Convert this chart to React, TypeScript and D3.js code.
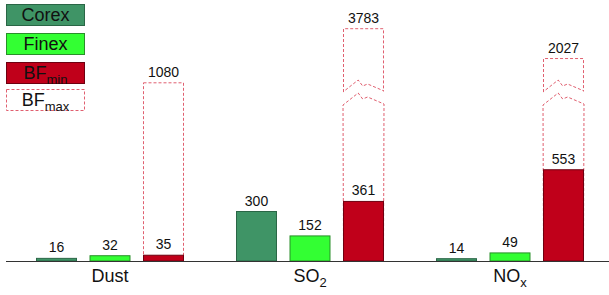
import React from "react";
import * as d3 from "d3";

const categories = ["Dust", "SO2", "NOx"];
const catLabels: [string, string][] = [["Dust", ""], ["SO", "2"], ["NO", "x"]];
const series = ["Corex", "Finex", "BF"];
const corex = [16, 300, 14];
const finex = [32, 152, 49];
const bfMin = [35, 361, 553];
const bfMax = [1080, 3783, 2027];

const W = 609;
const H = 295;
const BASE = 261;
const FONT = "'Liberation Sans', Arial, sans-serif";

const COREX_FILL = "#3f9466";
const COREX_STROKE = "#2a6646";
const FINEX_FILL = "#33ff33";
const FINEX_STROKE = "#2a8f2a";
const BF_FILL = "#c0001a";
const BF_STROKE = "#6e0010";
const DASH = "#e06070";

export default function App() {
  const x0 = d3.scaleBand<string>().domain(categories).range([10, 610]).padding(0);
  const x1 = d3.scaleBand<string>().domain(series).range([26, 174]).paddingInner(0.234).paddingOuter(0);
  const y = d3.scaleLinear().domain([0, 1000]).range([BASE, 96]);
  const yUp = d3.scaleLinear().domain([1000, 4000]).range([76, 25]);
  const breakLimit = 1500;
  const breakUpper = 92;
  const breakLower = 105;

  const w = x1.bandwidth();

  const chevron = (bx: number, yb: number) =>
    [
      [bx, yb],
      [bx + 0.37 * w, yb - 12],
      [bx + 0.48 * w, yb - 6],
      [bx + 0.6 * w, yb - 8],
      [bx + w, yb - 1],
    ] as [number, number][];

  const line = d3.line();

  const valueLabel = (cx: number, top: number, v: number, key: string) => (
    <text key={key} x={cx} y={top - 6} textAnchor="middle" fontSize={14} fill="#111" fontFamily={FONT}>
      {v}
    </text>
  );

  const legend = [
    { fill: COREX_FILL, stroke: COREX_STROKE, dash: false, main: "Corex", sub: "" },
    { fill: FINEX_FILL, stroke: FINEX_STROKE, dash: false, main: "Finex", sub: "" },
    { fill: BF_FILL, stroke: BF_STROKE, dash: false, main: "BF", sub: "min" },
    { fill: "#fff", stroke: DASH, dash: true, main: "BF", sub: "max" },
  ];
  const legendY = [4, 33, 62, 89];

  return (
    <svg width={W} height={H} style={{ position: "absolute", left: 0, top: 0, background: "#fff" }}>
      {/* legend */}
      {legend.map((l, i) => (
        <g key={"lg" + i}>
          <rect
            x={6.5}
            y={legendY[i] + 0.5}
            width={78}
            height={21}
            fill={l.fill}
            stroke={l.stroke}
            strokeWidth={1}
            strokeDasharray={l.dash ? "3,2" : undefined}
          />
          <text x={45.5} y={legendY[i] + 16.5} textAnchor="middle" fontSize={18} fontFamily={FONT} fill="#111">
            {l.main}
            {l.sub && (
              <tspan fontSize={13} dy={5}>
                {l.sub}
              </tspan>
            )}
          </text>
        </g>
      ))}

      {categories.map((c, i) => {
        const gx = x0(c)!;
        const xc = gx + x1("Corex")!;
        const xf = gx + x1("Finex")!;
        const xb = gx + x1("BF")!;
        const max = bfMax[i];
        const broken = max > breakLimit;
        const topMax = broken ? yUp(max) : y(max);
        return (
          <g key={c}>
            {/* BF max dashed outline */}
            {broken ? (
              <g fill="none" stroke={DASH} strokeWidth={1} strokeDasharray="3,2">
                <path
                  d={
                    `M${xb + 0.5},${breakUpper}L${xb + 0.5},${topMax}L${xb + w - 0.5},${topMax}L${xb + w - 0.5},${breakUpper - 1}` +
                    line(chevron(xb, breakUpper).reverse())!.replace("M", "L")
                  }
                  fill="#fff"
                />
                <path
                  d={
                    `M${xb + 0.5},${BASE}` +
                    line(chevron(xb, breakLower))!.replace("M", "L") +
                    `L${xb + w - 0.5},${BASE}`
                  }
                  fill="#fff"
                />
              </g>
            ) : (
              <rect
                x={xb + 0.5}
                y={topMax}
                width={w - 1}
                height={BASE - topMax}
                fill="#fff"
                stroke={DASH}
                strokeWidth={1}
                strokeDasharray="3,2"
              />
            )}
            {/* Corex */}
            <rect x={xc + 0.5} y={y(corex[i])} width={w - 1} height={BASE - y(corex[i])} fill={COREX_FILL} stroke={COREX_STROKE} />
            {/* Finex */}
            <rect x={xf + 0.5} y={y(finex[i])} width={w - 1} height={BASE - y(finex[i])} fill={FINEX_FILL} stroke={FINEX_STROKE} />
            {/* BF min */}
            <rect x={xb + 0.5} y={y(bfMin[i])} width={w - 1} height={BASE - y(bfMin[i])} fill={BF_FILL} stroke={BF_STROKE} />

            {valueLabel(xc + w / 2, y(corex[i]), corex[i], "lc")}
            {valueLabel(xf + w / 2, y(finex[i]), finex[i], "lf")}
            {valueLabel(xb + w / 2, y(bfMin[i]), bfMin[i], "lb")}
            {valueLabel(xb + w / 2, topMax, max, "lm")}

            <text x={gx + x0.bandwidth() / 2} y={282} textAnchor="middle" fontSize={18} fontFamily={FONT} fill="#111">
              {catLabels[i][0]}
              {catLabels[i][1] && (
                <tspan fontSize={13} dy={5}>
                  {catLabels[i][1]}
                </tspan>
              )}
            </text>
          </g>
        );
      })}

      {/* axis */}
      <line x1={6} x2={609} y1={BASE + 0.5} y2={BASE + 0.5} stroke="#333" strokeWidth={1} />
    </svg>
  );
}
